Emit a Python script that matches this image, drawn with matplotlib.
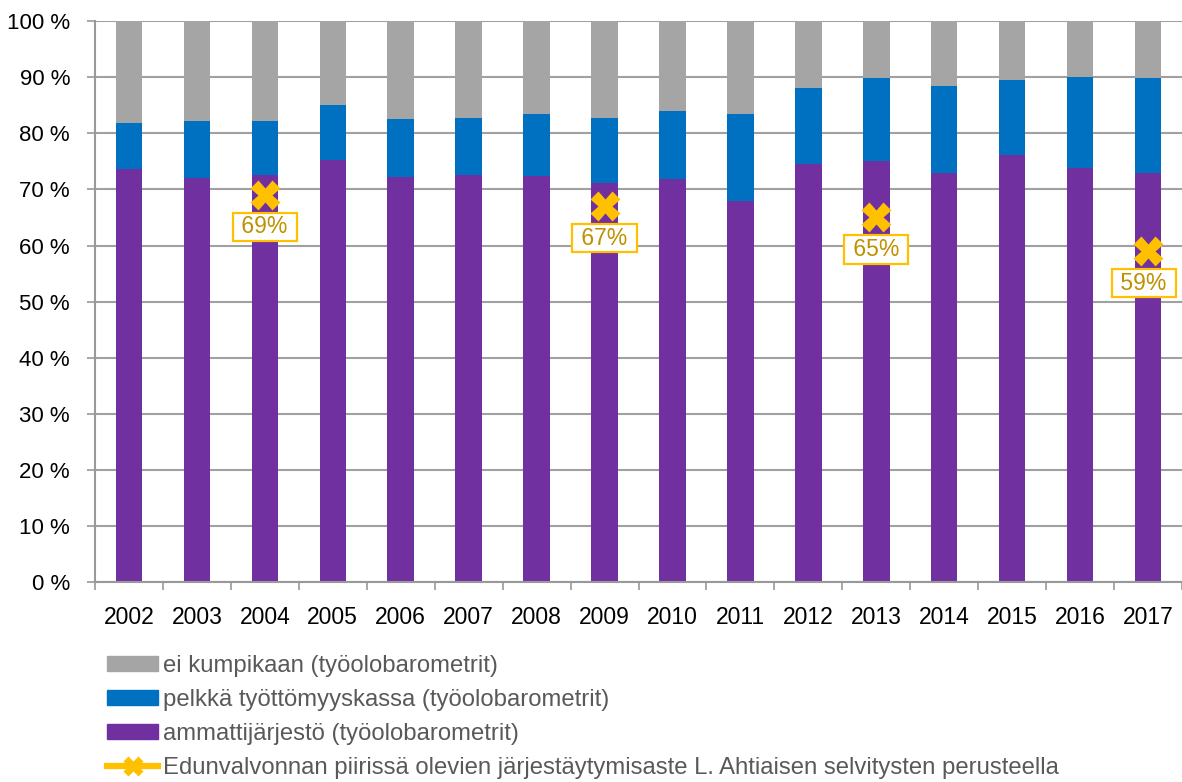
import matplotlib
matplotlib.use("Agg")
import matplotlib.pyplot as plt
from matplotlib.lines import Line2D
from matplotlib.patches import Patch
import numpy as np

years = ["2002", "2003", "2004", "2005", "2006", "2007", "2008", "2009",
         "2010", "2011", "2012", "2013", "2014", "2015", "2016", "2017"]
ammatti = [73.6, 72.1, 72.5, 75.2, 72.2, 72.6, 72.4, 71.1,
           71.8, 68.0, 74.6, 75.1, 72.9, 76.1, 73.8, 73.0]
kassa = [8.3, 10.1, 9.7, 9.9, 10.4, 10.1, 11.1, 11.7,
         12.2, 15.5, 13.5, 14.8, 15.6, 13.4, 16.3, 16.9]
ei_kumpikaan = [18.1, 17.8, 17.8, 14.9, 17.4, 17.3, 16.5, 17.2,
                16.0, 16.5, 11.9, 10.1, 11.5, 10.5, 9.9, 10.1]
nan = np.nan
ahtiainen = [nan, nan, 69, nan, nan, nan, nan, 67,
             nan, nan, nan, 65, nan, nan, nan, 59]
ytick_vals = [0, 10, 20, 30, 40, 50, 60, 70, 80, 90, 100]
ytick_labels = [str(v) + " %" for v in ytick_vals]

labels = ["ei kumpikaan (työolobarometrit)",
          "pelkkä työttömyyskassa (työolobarometrit)",
          "ammattijärjestö (työolobarometrit)",
          "Edunvalvonnan piirissä olevien järjestäytymisaste L. Ahtiaisen selvitysten perusteella"]

c_gray = "#A5A5A5"
c_blue = "#0070C0"
c_purple = "#7030A0"
c_yellow = "#FFC000"
c_label = "#BF9000"

plt.rcParams["font.family"] = ["Liberation Sans", "DejaVu Sans"]

fig = plt.figure(figsize=(11.82, 7.82), dpi=100)
ax = fig.add_axes([95 / 1182, 1 - 582.3 / 782, 1087 / 1182, 561.3 / 782])

x = np.arange(len(years))
w = 0.39
a = np.array(ammatti)
k = np.array(kassa)
e = np.array(ei_kumpikaan)
ax.bar(x, a, w, color=c_purple, zorder=2)
ax.bar(x, k, w, bottom=a, color=c_blue, zorder=2)
ax.bar(x, e, w, bottom=a + k, color=c_gray, zorder=2)

ax.plot(x, ahtiainen, color=c_yellow, lw=4, marker="X", ms=21,
        mec="none", mfc=c_yellow, zorder=4)

for i, v in enumerate(ahtiainen):
    if np.isnan(v):
        continue
    dx = -3 if i == len(years) - 1 else 0
    ax.annotate(" %d%% " % v, (x[i], v), xytext=(dx, -23),
                textcoords="offset points", ha="center", va="center",
                fontsize=16.5, color=c_label, zorder=5,
                bbox=dict(boxstyle="square,pad=0.12", fc="white",
                          ec=c_yellow, lw=1.6),
                annotation_clip=False)

ax.set_xlim(-0.5, len(years) - 0.5)
ax.set_ylim(0, 100)
ax.set_yticks(ytick_vals)
ax.set_yticklabels(ytick_labels, fontsize=16)
ax.set_xticks(x)
ax.set_xticklabels(years, fontsize=16.5)
ax.set_xticks(np.arange(len(years) + 1) - 0.5, minor=True)
ax.tick_params(axis="x", which="major", length=0, pad=17)
ax.tick_params(axis="x", which="minor", length=6, color="#999999", width=1.2)
ax.tick_params(axis="y", length=6, color="#999999", width=1.2, pad=12)

ax.grid(axis="y", color="#A0A0A0", lw=1.5, zorder=0)
ax.set_axisbelow(True)
for s in ["top", "right"]:
    ax.spines[s].set_visible(False)
for s in ["left", "bottom"]:
    ax.spines[s].set_color("#999999")
    ax.spines[s].set_linewidth(1.5)

handles = [Patch(color=c_gray), Patch(color=c_blue), Patch(color=c_purple),
           Line2D([], [], color=c_yellow, lw=4.5, marker="X", ms=14, mec="none")]
leg = fig.legend(handles, labels, loc="upper left",
                 bbox_to_anchor=(107 / 1182, 1 - 655 / 782),
                 frameon=False, fontsize=17.2, handlelength=2.15,
                 handleheight=0.6, handletextpad=0.2, labelspacing=0.5,
                 borderpad=0, borderaxespad=0)
for t in leg.get_texts():
    t.set_color("#595959")

fig.savefig("out.png", dpi=100)
